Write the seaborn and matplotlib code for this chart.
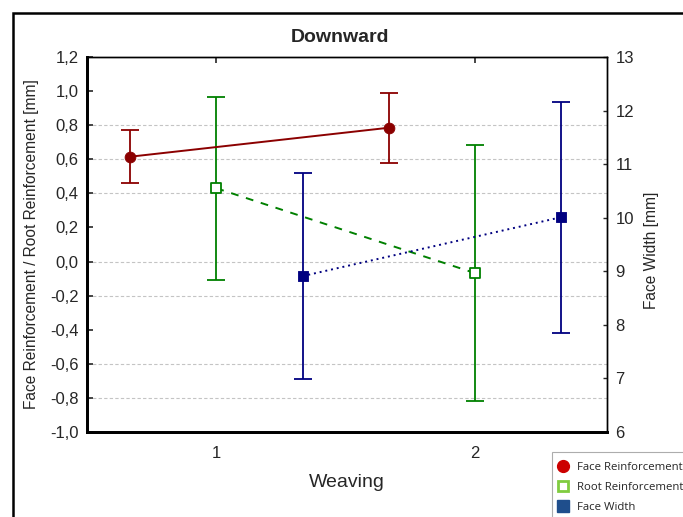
import matplotlib
matplotlib.use("Agg")
import matplotlib.pyplot as plt
import seaborn as sns
import numpy as np
import pandas as pd
from matplotlib.patches import Rectangle
from matplotlib.lines import Line2D
from matplotlib.ticker import FixedLocator, FuncFormatter

# ---- data ----
categories = [1, 2]
face_reinf = [0.615, 0.785]
face_reinf_err = [0.155, 0.205]
root_reinf = [0.43, -0.068]
root_reinf_err = [0.537, 0.752]
face_width = [8.91, 10.01]
face_width_err = [1.92, 2.155]
left_ticks = [-1.0, -0.8, -0.6, -0.4, -0.2, 0.0, 0.2, 0.4, 0.6, 0.8, 1.0, 1.2]
right_ticks = [6, 7, 8, 9, 10, 11, 12, 13]
grid_values = [0.8, 0.6, 0.4, 0.0, -0.2, -0.6, -0.8]

sns.set_style("white")
plt.rcParams['font.family'] = ['Liberation Sans', 'DejaVu Sans']

fig = plt.figure(figsize=(6.83, 5.17), dpi=100)
ax = fig.add_axes([87/683, 1-432/517, 520/683, 375/517])
ax2 = ax.twinx()

red, green, blue = "#8b0000", "#008000", "#000080"
cats = np.array(categories, dtype=float)
off = 1/3

for g in grid_values:
    ax.axhline(g, color="#c4c4c4", lw=0.8, ls=(0, (3, 2)), zorder=0)

df_face = pd.DataFrame({"x": cats - off, "y": face_reinf})
df_root = pd.DataFrame({"x": cats, "y": root_reinf})
df_width = pd.DataFrame({"x": cats + off, "y": face_width})

# error bars
ax.errorbar(df_face.x, df_face.y, yerr=face_reinf_err, fmt="none", ecolor=red,
            elinewidth=1.3, capsize=6.5, capthick=1.3, zorder=2)
ax.errorbar(df_root.x, df_root.y, yerr=root_reinf_err, fmt="none", ecolor=green,
            elinewidth=1.3, capsize=6.5, capthick=1.3, zorder=2)
ax2.errorbar(df_width.x, df_width.y, yerr=face_width_err, fmt="none", ecolor=blue,
             elinewidth=1.3, capsize=6.5, capthick=1.3, zorder=2)

# connecting lines
sns.lineplot(data=df_face, x="x", y="y", ax=ax, color=red, lw=1.4, sort=False, zorder=3)
sns.lineplot(data=df_root, x="x", y="y", ax=ax, color=green, lw=1.4, sort=False, zorder=3)
ax.lines[-1].set_dashes([4, 4])
sns.lineplot(data=df_width, x="x", y="y", ax=ax2, color=blue, lw=1.4, sort=False, zorder=3)
ax2.lines[-1].set_dashes([1, 2])

# markers
sns.scatterplot(data=df_face, x="x", y="y", ax=ax, marker="o", s=60, color=red,
                edgecolor=red, zorder=4)
sns.scatterplot(data=df_root, x="x", y="y", ax=ax, marker="s", s=55, facecolor="white",
                edgecolor=green, linewidth=1.3, zorder=4)
sns.scatterplot(data=df_width, x="x", y="y", ax=ax2, marker="s", s=60, color=blue,
                edgecolor=blue, zorder=4)

ax.set_xlim(0.5, 2.51)
ax.set_ylim(-1.0, 1.2)
ax2.set_ylim(6, 13)
ax.set_xticks(categories)
ax.set_xticklabels([str(c) for c in categories], fontsize=12)
ax.yaxis.set_major_locator(FixedLocator(left_ticks))
ax.yaxis.set_major_formatter(FuncFormatter(lambda v, p: f"{v:.1f}".replace(".", ",").replace("-0,0", "0,0")))
ax.tick_params(axis="y", labelsize=12, direction="in", length=4, width=1.2, pad=6)
ax.tick_params(axis="x", direction="in", length=4, width=1.2, top=True, pad=10)
ax2.set_yticks(right_ticks)
ax2.tick_params(axis="y", labelsize=12, direction="in", length=3, width=1, pad=6)

ax.set_xlabel("Weaving", fontsize=14)
ax.xaxis.set_label_coords(0.5, (432-474)/375)
ax.set_ylabel("Face Reinforcement / Root Reinforcement [mm]", fontsize=11.2)
ax.yaxis.set_label_coords((39-87)/520, 0.5)
ax2.set_ylabel("Face Width [mm]", fontsize=11.2)
ax2.yaxis.set_label_coords((644-87)/520, (432-250)/375)
fig.text(340/683, 1-37/517, "Downward", fontsize=14, fontweight="bold",
         ha="center", va="center")

for a in (ax, ax2):
    for s in a.spines.values():
        s.set_color("black")
        s.set_linewidth(1)
    a.spines["left"].set_linewidth(2)
    a.spines["bottom"].set_linewidth(2)

# figure border
fig.patches.append(Rectangle((13/683, -0.1), 1.2, 1 - 13/517 + 0.1, transform=fig.transFigure,
                             fill=False, edgecolor="black", lw=1.8))

# legend (cut by figure edge)
handles = [
    Line2D([], [], ls="none", marker="o", ms=8.5, color="#cc0000", mec="#cc0000"),
    Line2D([], [], ls="none", marker="s", ms=7.5, mfc="white", mec="#80cc40", mew=2),
    Line2D([], [], ls="none", marker="s", ms=8, color="#1f4e8c", mec="#1f4e8c"),
]
labels = ["Face Reinforcement", "Root Reinforcement", "Face Width"]
leg = fig.legend(handles, labels, loc="upper left", bbox_to_anchor=(552/683, 1-452/517),
                 prop={"family": "Open Sans", "size": 8.2}, frameon=True, fancybox=False,
                 edgecolor="#999999", handletextpad=1.1, borderpad=0.9, labelspacing=0.8,
                 handlelength=0.2, borderaxespad=0)
leg.get_frame().set_linewidth(0.8)

fig.savefig("out.png", dpi=100)
